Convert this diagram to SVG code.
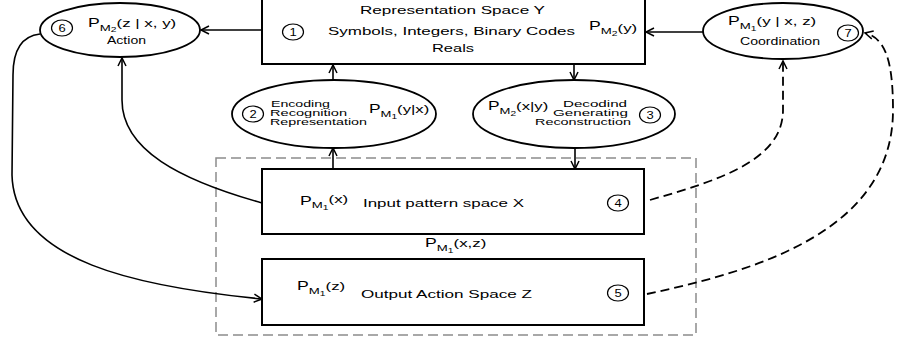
<svg xmlns="http://www.w3.org/2000/svg" width="897" height="343" viewBox="0 0 897 343">
<style>
text{font-family:"Liberation Sans",Arial,sans-serif;fill:#000}
.box{fill:#fff;stroke:#000;stroke-width:2}
.ell{fill:#fff;stroke:#000;stroke-width:1.8}
.num{fill:none;stroke:#000;stroke-width:1.2}
.d{font-size:10px;text-anchor:middle}
.t{font-size:11.5px}
.s{font-size:8.6px}
.c{fill:none;stroke:#000;stroke-width:1.6}
.dash{stroke-dasharray:9 5;stroke-width:1.8}
.grp{fill:none;stroke:#8c8c8c;stroke-width:1.5;stroke-dasharray:10 5}
</style>
<defs>
<marker id="ah" markerUnits="userSpaceOnUse" markerWidth="12" markerHeight="10" refX="8" refY="4" orient="auto" overflow="visible">
<path d="M0,0 L8,4 L0,8" fill="none" stroke="#000" stroke-width="1.5" stroke-dasharray="none"/>
</marker>
</defs>

<rect class="grp" x="216" y="158" width="480" height="177"/>

<g id="connectors">
<path class="c" d="M262,30 L201,30" marker-end="url(#ah)"/>
<path class="c" d="M703,32 L646,32" marker-end="url(#ah)"/>
<path class="c" d="M333,80 L333,65" marker-end="url(#ah)"/>
<path class="c" d="M574,64 L574,80" marker-end="url(#ah)"/>
<path class="c" d="M333,169 L333,148" marker-end="url(#ah)"/>
<path class="c" d="M575,148 L575,169" marker-end="url(#ah)"/>
<path class="c" d="M262,203 C180,180 122,150 122,100 L122,58" marker-end="url(#ah)"/>
<path class="c" d="M40,34 C22,36 13,50 13,75 L12,175 C14,262 140,287 262,299" marker-end="url(#ah)"/>
<path class="c dash" d="M650,200 C720,180 783,160 783,110 L783,61" marker-end="url(#ah)"/>
<path class="c dash" d="M647,294 C760,270 893,230 893,110 C893,60 885,38 865,33" marker-end="url(#ah)"/>
</g>

<g id="node1">
<rect class="box" x="262" y="-2" width="383" height="66"/>
<text class="t" x="360" y="14" textLength="185" lengthAdjust="spacingAndGlyphs">Representation Space Y</text>
<text class="t" x="328" y="35" textLength="247" lengthAdjust="spacingAndGlyphs">Symbols, Integers, Binary Codes</text>
<text class="t" x="432" y="52" textLength="42" lengthAdjust="spacingAndGlyphs">Reals</text>
<ellipse class="num" cx="293" cy="32" rx="10.5" ry="8"/>
<text class="d" transform="translate(293,36) scale(1.3,1)">1</text>
<text transform="translate(589,30) scale(1.47,1)"><tspan font-size="12">P</tspan><tspan font-size="9" dy="4">M</tspan><tspan font-size="7" dy="2">2</tspan><tspan font-size="11.5" dy="-4">(y)</tspan></text>
</g>

<g id="node6">
<ellipse class="ell" cx="120" cy="30" rx="80" ry="27"/>
<ellipse class="num" cx="62" cy="28" rx="10.5" ry="8"/>
<text class="d" transform="translate(62,32) scale(1.3,1)">6</text>
<text transform="translate(88,27) scale(1.47,1)"><tspan font-size="12">P</tspan><tspan font-size="9" dy="4">M</tspan><tspan font-size="7" dy="1">2</tspan><tspan font-size="11.5" dy="-5">(z | x, y)</tspan></text>
<text x="107" y="44" font-size="10" textLength="39" lengthAdjust="spacingAndGlyphs">Action</text>
</g>

<g id="node7">
<ellipse class="ell" cx="783" cy="31" rx="80" ry="28"/>
<ellipse class="num" cx="848" cy="33" rx="10.5" ry="8"/>
<text class="d" transform="translate(848,37) scale(1.3,1)">7</text>
<text transform="translate(728,25) scale(1.47,1)"><tspan font-size="12">P</tspan><tspan font-size="9" dy="4">M</tspan><tspan font-size="7" dy="2">1</tspan><tspan font-size="11.5" dy="-6">(y | x, z)</tspan></text>
<text x="740" y="45" font-size="10" textLength="80" lengthAdjust="spacingAndGlyphs">Coordination</text>
</g>

<g id="node2">
<ellipse class="ell" cx="334" cy="114" rx="102" ry="34"/>
<ellipse class="num" cx="253" cy="114" rx="10.5" ry="8"/>
<text class="d" transform="translate(253,118) scale(1.3,1)">2</text>
<text class="s" x="271" y="107" textLength="59" lengthAdjust="spacingAndGlyphs">Encoding</text>
<text class="s" x="270" y="116" textLength="77" lengthAdjust="spacingAndGlyphs">Recognition</text>
<text class="s" x="270" y="125" textLength="97" lengthAdjust="spacingAndGlyphs">Representation</text>
<text transform="translate(369,113) scale(1.45,1)"><tspan font-size="12">P</tspan><tspan font-size="9" dy="4">M</tspan><tspan font-size="7" dy="2">1</tspan><tspan font-size="11.5" dy="-6">(y|x)</tspan></text>
</g>

<g id="node3">
<ellipse class="ell" cx="574" cy="114" rx="101" ry="34"/>
<ellipse class="num" cx="650" cy="115" rx="10.5" ry="8"/>
<text class="d" transform="translate(650,119) scale(1.3,1)">3</text>
<text transform="translate(488,110) scale(1.45,1)"><tspan font-size="12">P</tspan><tspan font-size="9" dy="4">M</tspan><tspan font-size="7" dy="2">2</tspan><tspan font-size="11.5" dy="-6">(x|y)</tspan></text>
<text class="s" x="563" y="107" textLength="64" lengthAdjust="spacingAndGlyphs">Decodind</text>
<text class="s" x="553" y="116" textLength="75" lengthAdjust="spacingAndGlyphs">Generating</text>
<text class="s" x="535" y="125" textLength="96" lengthAdjust="spacingAndGlyphs">Reconstruction</text>
</g>

<g id="node4">
<rect class="box" x="262" y="169" width="382" height="65"/>
<text transform="translate(300,205) scale(1.47,1)"><tspan font-size="12">P</tspan><tspan font-size="9" dy="3">M</tspan><tspan font-size="7" dy="2">1</tspan><tspan font-size="11.5" dy="-7">(x)</tspan></text>
<text class="t" x="363" y="207" textLength="161" lengthAdjust="spacingAndGlyphs">Input pattern space X</text>
<ellipse class="num" cx="618" cy="203" rx="10.5" ry="8"/>
<text class="d" transform="translate(618,207) scale(1.3,1)">4</text>
</g>

<g id="label-xz">
<text transform="translate(425,247) scale(1.47,1)"><tspan font-size="12">P</tspan><tspan font-size="9" dy="4">M</tspan><tspan font-size="7" dy="2">1</tspan><tspan font-size="11.5" dy="-6">(x,z)</tspan></text>
</g>

<g id="node5">
<rect class="box" x="262" y="259" width="382" height="66"/>
<text transform="translate(297,290) scale(1.47,1)"><tspan font-size="12">P</tspan><tspan font-size="9" dy="4">M</tspan><tspan font-size="7" dy="2">1</tspan><tspan font-size="11.5" dy="-6">(z)</tspan></text>
<text class="t" x="361" y="298" textLength="171" lengthAdjust="spacingAndGlyphs">Output Action Space Z</text>
<ellipse class="num" cx="618" cy="293" rx="10.5" ry="8"/>
<text class="d" transform="translate(618,297) scale(1.3,1)">5</text>
</g>
</svg>
